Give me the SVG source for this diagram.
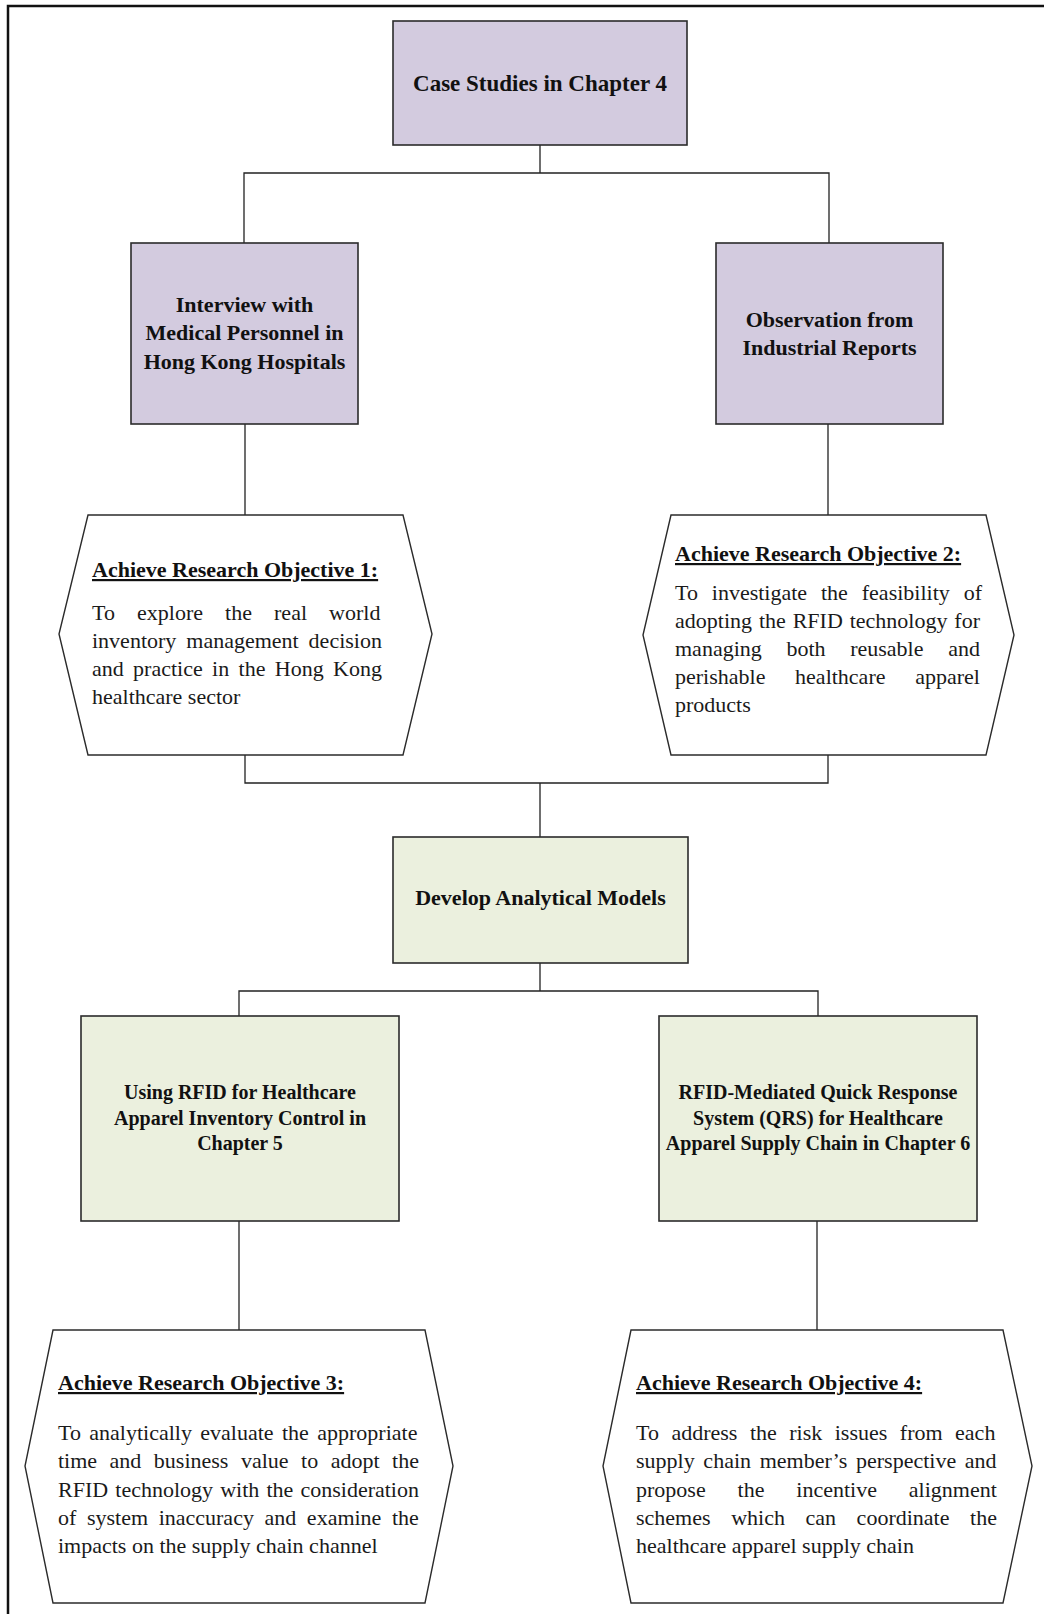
<svg xmlns="http://www.w3.org/2000/svg" width="1044" height="1614" viewBox="0 0 1044 1614">
<style>
.frame{fill:none;stroke:#111;stroke-width:2.5}
.purple{fill:#d3cbdf;stroke:#2b2b2b;stroke-width:1.6}
.green{fill:#ebf0de;stroke:#2b2b2b;stroke-width:1.6}
.hex{fill:#fff;stroke:#2b2b2b;stroke-width:1.4}
.conn{fill:none;stroke:#222;stroke-width:1.3}
.bt{font-family:"Liberation Serif","Times New Roman",serif;font-weight:bold;fill:#111;text-anchor:middle}
.ht{font-family:"Liberation Serif","Times New Roman",serif;font-weight:bold;font-size:22px;fill:#111;text-decoration:underline}
.body{font-family:"Liberation Serif","Times New Roman",serif;font-size:22px;fill:#1a1a1a}
</style>
<rect width="1044" height="1614" fill="#fff"/>
<path class="frame" d="M8,1614 V6 H1044"/>

<g id="connectors">
<path class="conn" d="M540,145 V173 M244,243 V173 H829 V243"/>
<path class="conn" d="M245,424 V515 M828,424 V515"/>
<path class="conn" d="M245,755 V783 H828 V755 M540,783 V837"/>
<path class="conn" d="M540,963 V991 M239,1016 V991 H818 V1016"/>
<path class="conn" d="M239,1221 V1330 M817,1221 V1330"/>
</g>

<g id="case-studies">
<rect class="purple" x="393" y="21" width="294" height="124"/>
<text class="bt" x="540" y="91" font-size="23">Case Studies in Chapter 4</text>
</g>

<g id="interview">
<rect class="purple" x="131" y="243" width="227" height="181"/>
<text class="bt" font-size="22"><tspan x="244.5" y="312">Interview with</tspan><tspan x="244.5" y="340">Medical Personnel in</tspan><tspan x="244.5" y="369">Hong Kong Hospitals</tspan></text>
</g>

<g id="observation">
<rect class="purple" x="716" y="243" width="227" height="181"/>
<text class="bt" font-size="22"><tspan x="829.5" y="327">Observation from</tspan><tspan x="829.5" y="355">Industrial Reports</tspan></text>
</g>

<g id="objective-1">
<polygon class="hex" points="88,515 403,515 432,634 403,755 88,755 59,634"/>
<text class="ht" x="92" y="577">Achieve Research Objective 1:</text>
<text class="body">
<tspan x="92" y="620" word-spacing="16.6">To explore the real world</tspan>
<tspan x="92" y="648" word-spacing="4.45">inventory management decision</tspan>
<tspan x="92" y="676" word-spacing="3.86">and practice in the Hong Kong</tspan>
<tspan x="92" y="704">healthcare sector</tspan>
</text>
</g>

<g id="objective-2">
<polygon class="hex" points="671,515 986,515 1014,635 986,755 671,755 643,635"/>
<text class="ht" x="675" y="561">Achieve Research Objective 2:</text>
<text class="body">
<tspan x="675" y="600" word-spacing="8.4">To investigate the feasibility of</tspan>
<tspan x="675" y="628" word-spacing="1.4">adopting the RFID technology for</tspan>
<tspan x="675" y="656" word-spacing="19.17">managing both reusable and</tspan>
<tspan x="675" y="684" word-spacing="24.2">perishable healthcare apparel</tspan>
<tspan x="675" y="712">products</tspan>
</text>
</g>

<g id="develop-models">
<rect class="green" x="393" y="837" width="295" height="126"/>
<text class="bt" x="540.5" y="905" font-size="22">Develop Analytical Models</text>
</g>

<g id="rfid-inventory">
<rect class="green" x="81" y="1016" width="318" height="205"/>
<text class="bt" font-size="20"><tspan x="240" y="1099">Using RFID for Healthcare</tspan><tspan x="240" y="1125">Apparel Inventory Control in</tspan><tspan x="240" y="1150">Chapter 5</tspan></text>
</g>

<g id="rfid-qrs">
<rect class="green" x="659" y="1016" width="318" height="205"/>
<text class="bt" font-size="20"><tspan x="818" y="1099">RFID-Mediated Quick Response</tspan><tspan x="818" y="1125">System (QRS) for Healthcare</tspan><tspan x="818" y="1150">Apparel Supply Chain in Chapter 6</tspan></text>
</g>

<g id="objective-3">
<polygon class="hex" points="53,1330 425,1330 453,1466 425,1603 53,1603 25,1466"/>
<text class="ht" x="58" y="1390">Achieve Research Objective 3:</text>
<text class="body">
<tspan x="58" y="1440" word-spacing="2.9">To analytically evaluate the appropriate</tspan>
<tspan x="58" y="1468" word-spacing="7">time and business value to adopt the</tspan>
<tspan x="58" y="1497" word-spacing="1.65">RFID technology with the consideration</tspan>
<tspan x="58" y="1525" word-spacing="5.1">of system inaccuracy and examine the</tspan>
<tspan x="58" y="1553">impacts on the supply chain channel</tspan>
</text>
</g>

<g id="objective-4">
<polygon class="hex" points="631,1330 1003,1330 1032,1466 1003,1603 631,1603 603,1466"/>
<text class="ht" x="636" y="1390">Achieve Research Objective 4:</text>
<text class="body">
<tspan x="636" y="1440" word-spacing="7.0">To address the risk issues from each</tspan>
<tspan x="636" y="1468" word-spacing="3.2">supply chain member’s perspective and</tspan>
<tspan x="636" y="1497" word-spacing="26.4">propose the incentive alignment</tspan>
<tspan x="636" y="1525" word-spacing="15.1">schemes which can coordinate the</tspan>
<tspan x="636" y="1553">healthcare apparel supply chain</tspan>
</text>
</g>
</svg>
